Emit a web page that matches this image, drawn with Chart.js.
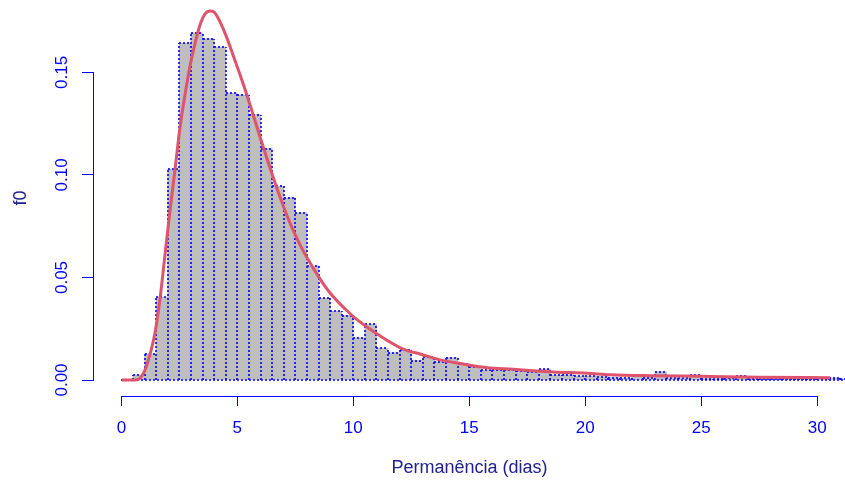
<!DOCTYPE html>
<html><head><meta charset="utf-8">
<script src="https://cdn.jsdelivr.net/npm/chart.js@4"></script>
<style>html,body{margin:0;padding:0;background:#fff;overflow:hidden}canvas{display:block}</style>
</head><body>
<canvas id="c" width="845" height="482"></canvas>
<script>
// Histogram bins (width 0.5 day): mid-points and density heights
const binMids = [0.25,0.75,1.25,1.75,2.25,2.75,3.25,3.75,4.25,4.75,5.25,5.75,6.25,6.75,7.25,7.75,8.25,8.75,9.25,9.75,
  10.25,10.75,11.25,11.75,12.25,12.75,13.25,13.75,14.25,14.75,15.25,15.75,16.25,16.75,17.25,17.75,18.25,18.75,19.25,19.75,
  20.25,20.75,21.25,21.75,22.25,22.75,23.25,23.75,24.25,24.75,25.25,25.75,26.25,26.75,27.25,27.75,28.25,28.75,29.25,29.75,
  30.25,30.75,31.25];
const density = [0,0.0025,0.0127,0.0403,0.1027,0.1642,0.1693,0.1664,0.1623,0.1399,0.1391,0.1294,0.1128,0.0944,0.0888,0.0815,0.0555,0.0398,0.0335,0.0314,
  0.0206,0.0271,0.0154,0.0133,0.0146,0.0095,0.0110,0.0089,0.0109,0.0076,0.0065,0.0047,0.0049,0.0050,0.0043,0.0040,0.0052,0.0024,0.0026,0.0019,
  0.0019,0.0016,0.0012,0.0010,0.0025,0.0012,0.0040,0.0010,0.0008,0.0025,0.0006,0.0006,0.0008,0.0020,0.0006,0.0006,0.0005,0.0006,0.0005,0.0005,
  0.0005,0.0010,0.0004];
// Fitted density curve
const curveX = [0.02,0.63,0.81,1.02,1.24,1.45,1.67,1.88,2.10,2.32,2.53,2.75,2.96,3.18,3.39,3.61,3.83,4.00,
  4.17,4.52,4.86,5.21,5.55,5.98,6.41,6.84,7.27,7.71,8.14,8.57,9.00,9.65,10.08,11.16,12.15,12.88,13.74,14.74,
  15.77,16.89,17.75,18.62,20.08,21.07,22.80,24.96,27.54,30.56];
const curveY = [0,0,0.0010,0.0049,0.0127,0.0229,0.0400,0.0609,0.0829,0.1033,0.1233,0.1395,0.1531,0.1643,0.1731,0.1785,0.1799,0.1794,
  0.1765,0.1677,0.1570,0.1458,0.1341,0.1185,0.1034,0.0892,0.0765,0.0658,0.0570,0.0492,0.0424,0.0346,0.0302,0.0215,0.0151,0.0127,0.0098,0.0078,
  0.0060,0.0052,0.0045,0.0039,0.0033,0.0026,0.0021,0.0018,0.0014,0.0011];
const xTicks = [0,5,10,15,20,25,30];
const xTickLabels = ['0','5','10','15','20','25','30'];
const yTicks = [0,0.05,0.10,0.15];
const yTickLabels = ['0.00','0.05','0.10','0.15'];
const xTitle = 'Permanência (dias)';
const yTitle = 'f0';

const BLUE = '#0000FF';
const LABCOL = '#22228f';
const FAM = "'Liberation Sans', Arial, Helvetica, sans-serif";
Chart.defaults.font.family = FAM;

// Dotted bar outlines, positioned from the bar elements the library laid out
const dottedBorders = {
  id: 'dottedBorders',
  afterDatasetDraw(chart, args) {
    if (args.index !== 0) return;
    const ctx = chart.ctx, a = chart.chartArea;
    const bars = args.meta.data.map(bar => {
      const p = bar.getProps(['x', 'y', 'base', 'width'], true);
      return {l: Math.round(p.x - p.width / 2), r: Math.round(p.x + p.width / 2),
              t: Math.round(Math.min(p.y, p.base)), b: Math.round(Math.max(p.y, p.base))};
    });
    if (!bars.length) return;
    ctx.save();
    ctx.beginPath(); ctx.rect(a.left, a.top, a.right - a.left, a.bottom - a.top + 3); ctx.clip();
    ctx.strokeStyle = BLUE; ctx.lineWidth = 1.6; ctx.setLineDash([2, 2]);
    const base = bars[0].b;
    // baseline
    ctx.beginPath(); ctx.moveTo(bars[0].l, base); ctx.lineTo(bars[bars.length - 1].r, base); ctx.stroke();
    // tops
    bars.forEach(bb => {
      if (bb.t < bb.b) { ctx.beginPath(); ctx.moveTo(bb.l, bb.t); ctx.lineTo(bb.r, bb.t); ctx.stroke(); }
    });
    // vertical edges (shared between neighbours), drawn from the baseline up
    for (let i = 0; i <= bars.length; i++) {
      const prev = bars[i - 1], cur = bars[i];
      const x = cur ? cur.l : prev.r;
      const top = Math.min(prev ? prev.t : base, cur ? cur.t : base);
      if (top < base) { ctx.beginPath(); ctx.moveTo(x, base); ctx.lineTo(x, top); ctx.stroke(); }
    }
    ctx.restore();
  }
};

const rAxes = {
  id: 'rAxes',
  afterDraw(chart) {
    const {ctx, chartArea: a, scales: {x, y}} = chart;
    ctx.save();
    ctx.strokeStyle = BLUE; ctx.lineWidth = 1;
    const yb = Math.round(a.bottom) + 0.5;
    ctx.beginPath();
    ctx.moveTo(x.getPixelForValue(xTicks[0]), yb);
    ctx.lineTo(x.getPixelForValue(xTicks[xTicks.length - 1]), yb);
    ctx.stroke();
    const xl = Math.round(a.left) - 0.5;
    ctx.beginPath();
    ctx.moveTo(xl, y.getPixelForValue(yTicks[0]));
    ctx.lineTo(xl, y.getPixelForValue(yTicks[yTicks.length - 1]));
    ctx.stroke();
    ctx.fillStyle = BLUE; ctx.font = '17px ' + FAM;
    ctx.textAlign = 'center'; ctx.textBaseline = 'middle';
    yTicks.forEach((v, i) => {
      ctx.save();
      ctx.translate(a.left - 31.5, y.getPixelForValue(v));
      ctx.rotate(-Math.PI / 2);
      ctx.fillText(yTickLabels[i], 0, 0);
      ctx.restore();
    });
    ctx.restore();
  }
};

new Chart(document.getElementById('c'), {
  type: 'bar',
  data: {
    datasets: [
      {
        type: 'bar',
        data: binMids.map((m, i) => ({x: m, y: density[i]})),
        backgroundColor: '#BEBEBE',
        borderWidth: 0,
        barPercentage: 1,
        categoryPercentage: 1,
        order: 2
      },
      {
        type: 'line',
        data: curveX.map((v, i) => ({x: v, y: curveY[i]})),
        borderColor: '#DF536B',
        borderWidth: 3,
        pointRadius: 0,
        cubicInterpolationMode: 'monotone',
        fill: false,
        order: 1
      }
    ]
  },
  options: {
    responsive: false,
    devicePixelRatio: 1,
    animation: false,
    events: [],
    layout: {padding: 0},
    plugins: {legend: {display: false}, tooltip: {enabled: false}},
    scales: {
      x: {
        type: 'linear',
        offset: false,
        min: -1.18,
        max: 31.2,
        afterBuildTicks: s => { s.ticks = xTicks.map(v => ({value: v})); },
        afterFit: s => { s.height = 86; },
        grid: {display: true, offset: false, drawOnChartArea: false, drawTicks: true, tickLength: 10, color: BLUE, lineWidth: 1},
        border: {display: false},
        ticks: {
          color: BLUE, font: {size: 17}, padding: 12, maxRotation: 0, autoSkip: false,
          callback: (v, i) => xTickLabels[i]
        },
        title: {display: true, text: xTitle, color: LABCOL, font: {size: 18}, padding: {top: 0, bottom: 3}}
      },
      y: {
        type: 'linear',
        min: -0.0078,
        max: 0.1853,
        afterBuildTicks: s => { s.ticks = yTicks.map(v => ({value: v})); },
        afterFit: s => { s.width = 94; },
        grid: {display: true, drawOnChartArea: false, drawTicks: true, tickLength: 12, color: BLUE, lineWidth: 1},
        border: {display: false},
        ticks: {display: false},
        title: {display: true, text: yTitle, color: LABCOL, font: {size: 18}, padding: {top: 10, bottom: 0}}
      }
    }
  },
  plugins: [dottedBorders, rAxes]
});
</script>
</body></html>
